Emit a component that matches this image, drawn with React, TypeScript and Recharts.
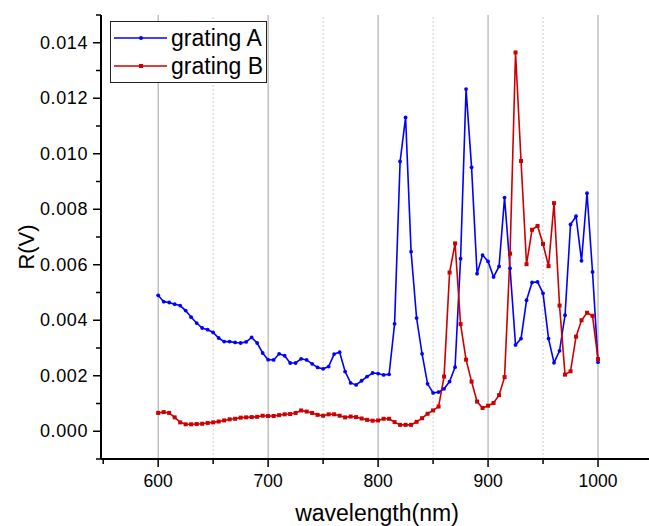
import React from 'react';
import { LineChart, Line, XAxis, YAxis, ReferenceLine, Label } from 'recharts';

const wavelengths = [
  600, 605, 610, 615, 620, 625, 630, 635, 640, 645, 650, 655, 660, 665, 670, 675, 680, 685, 690, 695,
  700, 705, 710, 715, 720, 725, 730, 735, 740, 745, 750, 755, 760, 765, 770, 775, 780, 785, 790, 795,
  800, 805, 810, 815, 820, 825, 830, 835, 840, 845, 850, 855, 860, 865, 870, 875, 880, 885, 890, 895,
  900, 905, 910, 915, 920, 925, 930, 935, 940, 945, 950, 955, 960, 965, 970, 975, 980, 985, 990, 995,
  1000,
];

const gratingA = [
  0.00490, 0.00467, 0.00464, 0.00458, 0.00453, 0.00435, 0.00411, 0.00390, 0.00372, 0.00366,
  0.00356, 0.00336, 0.00323, 0.00323, 0.00320, 0.00318, 0.00322, 0.00338, 0.00318, 0.00282,
  0.00258, 0.00257, 0.00279, 0.00272, 0.00246, 0.00246, 0.00261, 0.00257, 0.00243, 0.00230,
  0.00225, 0.00233, 0.00278, 0.00285, 0.00215, 0.00174, 0.00167, 0.00182, 0.00197, 0.00210,
  0.00208, 0.00203, 0.00205, 0.00387, 0.00972, 0.01131, 0.00647, 0.00408, 0.00279, 0.00171,
  0.00138, 0.00141, 0.00153, 0.00179, 0.00231, 0.00622, 0.01233, 0.00951, 0.00568, 0.00635,
  0.00612, 0.00556, 0.00594, 0.00842, 0.00587, 0.00311, 0.00334, 0.00472, 0.00536, 0.00538,
  0.00497, 0.00334, 0.00247, 0.00290, 0.00418, 0.00745, 0.00775, 0.00614, 0.00858, 0.00574,
  0.00249,
];

const gratingB = [
  0.00066, 0.00069, 0.00066, 0.00050, 0.00032, 0.00025, 0.00025, 0.00026, 0.00027, 0.00030,
  0.00032, 0.00035, 0.00039, 0.00043, 0.00045, 0.00049, 0.00050, 0.00051, 0.00052, 0.00056,
  0.00055, 0.00055, 0.00058, 0.00061, 0.00062, 0.00066, 0.00075, 0.00071, 0.00066, 0.00059,
  0.00056, 0.00061, 0.00061, 0.00056, 0.00050, 0.00053, 0.00051, 0.00046, 0.00041, 0.00038,
  0.00039, 0.00045, 0.00045, 0.00033, 0.00023, 0.00023, 0.00023, 0.00034, 0.00047, 0.00063,
  0.00075, 0.00089, 0.00197, 0.00572, 0.00677, 0.00386, 0.00258, 0.00179, 0.00107, 0.00084,
  0.00092, 0.00102, 0.00130, 0.00195, 0.00640, 0.01365, 0.00974, 0.00602, 0.00726, 0.00740,
  0.00675, 0.00595, 0.00822, 0.00453, 0.00204, 0.00216, 0.00341, 0.00400, 0.00427, 0.00416,
  0.00260,
];

const seriesNames = ['grating A', 'grating B'];
const seriesColors = ['#0000ff', '#cc0000'];

const xDomain = [548, 1050];
const xTicks = [550, 600, 650, 700, 750, 800, 850, 900, 950, 1000, 1050];
const xMajorTicks = [600, 700, 800, 900, 1000];
const xMinorGrid = [650, 750, 850, 950];

const yDomain = [-0.001, 0.015];
const yTicks = [
  -0.001, 0.0, 0.001, 0.002, 0.003, 0.004, 0.005, 0.006, 0.007, 0.008, 0.009, 0.01, 0.011,
  0.012, 0.013, 0.014, 0.015,
];
const yMajorTicks = [0.0, 0.002, 0.004, 0.006, 0.008, 0.01, 0.012, 0.014];

const data = wavelengths.map((w, i) => ({ w, a: gratingA[i], b: gratingB[i] }));

const FONT = '"Liberation Sans", Arial, sans-serif';

const isMajorY = (v: number) => yMajorTicks.some((m) => Math.abs(m - v) < 1e-9);

const XTick = (props: any) => {
  const { x, y, payload } = props;
  const v = payload.value;
  const major = xMajorTicks.includes(v);
  return (
    <g>
      <line x1={x} x2={x} y1={y} y2={y + (major ? 8 : 5)} stroke="#000" strokeWidth={1.5} />
      {major && (
        <text x={x} y={y + 28} textAnchor="middle" fontSize={17.5} fontFamily={FONT} fill="#000">
          {v}
        </text>
      )}
    </g>
  );
};

const YTick = (props: any) => {
  const { x, y, payload } = props;
  const v = payload.value;
  const major = isMajorY(v);
  return (
    <g>
      <line x1={x - (major ? 8 : 5)} x2={x} y1={y} y2={y} stroke="#000" strokeWidth={1.5} />
      {major && (
        <text
          x={x - 13}
          y={y + 6}
          textAnchor="end"
          fontSize={18}
          letterSpacing={0.6}
          fontFamily={FONT}
          fill="#000"
        >
          {v.toFixed(3)}
        </text>
      )}
    </g>
  );
};

const BlueDot = (props: any) => {
  const { cx, cy, index } = props;
  return <circle key={`a${index}`} cx={cx} cy={cy} r={1.9} fill={seriesColors[0]} />;
};

const RedDot = (props: any) => {
  const { cx, cy, index } = props;
  return <rect key={`b${index}`} x={cx - 2} y={cy - 2} width={4} height={4} fill={seriesColors[1]} />;
};

const LegendBox = () => (
  <div
    style={{
      position: 'absolute',
      left: 110,
      top: 21,
      width: 157,
      height: 62,
      border: '1px solid #222',
      background: '#fff',
      boxSizing: 'border-box',
      fontFamily: FONT,
      fontSize: 23,
      color: '#000',
    }}
  >
    {seriesNames.map((name, i) => (
      <div key={name} style={{ position: 'absolute', left: 0, top: i === 0 ? 3 : 31, height: 26, width: 155 }}>
        <svg width={56} height={26} style={{ position: 'absolute', left: 2, top: 0 }}>
          <line x1={1} x2={54} y1={13} y2={13} stroke={seriesColors[i]} strokeWidth={1.6} />
          {i === 0 ? (
            <circle cx={28} cy={13} r={2} fill={seriesColors[i]} />
          ) : (
            <rect x={26} y={11} width={4} height={4} fill={seriesColors[i]} />
          )}
        </svg>
        <span style={{ position: 'absolute', left: 60, top: 0, lineHeight: '26px', whiteSpace: 'nowrap' }}>
          {name}
        </span>
      </div>
    ))}
  </div>
);

export default function App() {
  return (
    <div style={{ position: 'fixed', left: 0, top: 0, width: 649, height: 526, overflow: 'hidden', background: '#fff' }}>
      <LineChart
        width={660}
        height={540}
        data={data}
        margin={{ top: 15, right: 7, bottom: 0, left: 0 }}
      >
        {xMajorTicks.map((v) => (
          <ReferenceLine key={`g${v}`} x={v} stroke="#a0a0a0" strokeWidth={1} />
        ))}
        {xMinorGrid.map((v) => (
          <ReferenceLine key={`m${v}`} x={v} stroke="#cccccc" strokeWidth={1} strokeDasharray="2 2" />
        ))}
        <XAxis
          dataKey="w"
          type="number"
          domain={xDomain}
          ticks={xTicks}
          interval={0}
          height={81}
          tickSize={0}
          tickMargin={0}
          tickLine={false}
          tick={<XTick />}
          axisLine={{ stroke: '#000', strokeWidth: 2 }}
          allowDataOverflow
        >
          <Label
            value="wavelength(nm)"
            position="insideBottom"
            offset={19}
            style={{ fontSize: 23, fontFamily: FONT, fill: '#000' }}
          />
        </XAxis>
        <XAxis
          xAxisId="top"
          orientation="top"
          dataKey="w"
          type="number"
          domain={xDomain}
          height={0}
          tick={false}
          tickLine={false}
          axisLine={{ stroke: '#000', strokeWidth: 2 }}
          allowDataOverflow
        />
        <YAxis
          type="number"
          domain={yDomain}
          ticks={yTicks}
          interval={0}
          width={101}
          tickSize={0}
          tickMargin={0}
          tickLine={false}
          tick={<YTick />}
          axisLine={{ stroke: '#000', strokeWidth: 2 }}
          allowDataOverflow
        >
          <Label
            content={() => (
              <text
                transform="translate(34,247) rotate(-90)"
                textAnchor="middle"
                fontSize={22}
                fontFamily={FONT}
                fill="#000"
              >
                R(V)
              </text>
            )}
          />
        </YAxis>
        <YAxis
          yAxisId="right"
          orientation="right"
          type="number"
          domain={yDomain}
          width={0}
          tick={false}
          tickLine={false}
          axisLine={{ stroke: '#000', strokeWidth: 2 }}
          allowDataOverflow
        />
        <Line
          type="linear"
          dataKey="a"
          name={seriesNames[0]}
          stroke={seriesColors[0]}
          strokeWidth={1.6}
          dot={<BlueDot />}
          activeDot={false}
          isAnimationActive={false}
        />
        <Line
          type="linear"
          dataKey="b"
          name={seriesNames[1]}
          stroke={seriesColors[1]}
          strokeWidth={1.6}
          dot={<RedDot />}
          activeDot={false}
          isAnimationActive={false}
        />
      </LineChart>
      <LegendBox />
    </div>
  );
}
